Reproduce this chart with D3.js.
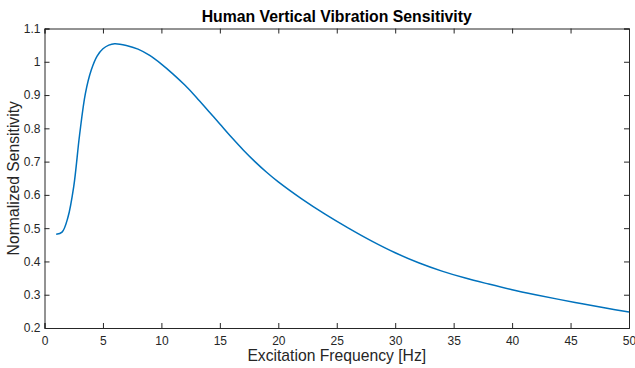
<html>
<head>
    <meta charset="utf-8">
    <script src="https://d3js.org/d3.v7.min.js"></script>
    <title>vibration</title>
    <style>
        body { margin: 0; background: #fff; }
        text { font-family: "Liberation Sans", Arial, sans-serif; }
    </style>
</head>
<body>
<svg id="chart"></svg>
<script>
// values
const freq = [1, 1.5, 2, 2.5, 3, 3.5, 4, 4.5, 5, 5.5, 6, 7, 8, 9, 10, 11, 12, 13, 14, 15, 16,
              17, 18, 19, 20, 22, 24, 26, 28, 30, 32, 34, 36, 38, 40, 42, 44, 46, 48, 50];
const sens = [0.482, 0.488, 0.532, 0.625, 0.78, 0.905, 0.975, 1.017, 1.039, 1.05, 1.054, 1.049,
              1.038, 1.019, 0.993, 0.963, 0.93, 0.893, 0.853, 0.813, 0.773, 0.735, 0.700, 0.668,
              0.639, 0.588, 0.542, 0.500, 0.461, 0.426, 0.396, 0.371, 0.350, 0.332, 0.315,
              0.300, 0.286, 0.273, 0.260, 0.248];
const xTicks = [0, 5, 10, 15, 20, 25, 30, 35, 40, 45, 50];
const yTicks = [0.2, 0.3, 0.4, 0.5, 0.6, 0.7, 0.8, 0.9, 1, 1.1];

const width = 635, height = 368;
const mLeft = 44.5, mRight = 629, mTop = 28.5, mBottom = 328;
const axisColor = "#262626";

let svg = d3.select("svg#chart")
            .attr("width", width)
            .attr("height", height);

const x = d3.scaleLinear().domain([0, 50]).range([mLeft, mRight]);
const y = d3.scaleLinear().domain([0.2, 1.1]).range([mBottom, mTop]);

// bottom + left axes with labels, top + right only ticks (all inward)
svg.append("g")
   .attr("transform", `translate(0,${mBottom})`)
   .call(d3.axisBottom(x).tickValues(xTicks).tickSize(-5).tickPadding(8).tickFormat(d3.format("")));
svg.append("g")
   .attr("transform", `translate(${mLeft},0)`)
   .call(d3.axisLeft(y).tickValues(yTicks).tickSize(-5).tickPadding(4).tickFormat(d3.format("")));
svg.append("g")
   .attr("transform", `translate(0,${mTop})`)
   .call(d3.axisTop(x).tickValues(xTicks).tickSize(-5).tickFormat(""));
svg.append("g")
   .attr("transform", `translate(${mRight},0)`)
   .call(d3.axisRight(y).tickValues(yTicks).tickSize(-5).tickFormat(""));

svg.selectAll(".domain").attr("stroke", axisColor).attr("stroke-width", 1);
svg.selectAll(".tick line").attr("stroke", axisColor);
svg.selectAll(".tick text").attr("fill", axisColor).style("font-size", "12px");

let pts = freq.map((f, i) => [f, sens[i]]);
let line = d3.line()
             .x(d => x(d[0]))
             .y(d => y(d[1]))
             .curve(d3.curveCatmullRom.alpha(0.5));

svg.append("path")
   .datum(pts)
   .attr("d", line)
   .attr("fill", "none")
   .attr("stroke", "#0072BD")
   .attr("stroke-width", 1.5);

svg.append("text")
   .attr("x", (mLeft + mRight) / 2)
   .attr("y", 22)
   .attr("text-anchor", "middle")
   .style("font-size", "15.8px")
   .style("font-weight", "bold")
   .attr("fill", "#000")
   .text("Human Vertical Vibration Sensitivity");

svg.append("text")
   .attr("x", (mLeft + mRight) / 2)
   .attr("y", 361)
   .attr("text-anchor", "middle")
   .style("font-size", "15.7px")
   .attr("fill", axisColor)
   .text("Excitation Frequency [Hz]");

svg.append("text")
   .attr("transform", `translate(19,${(mTop + mBottom) / 2}) rotate(-90)`)
   .attr("text-anchor", "middle")
   .style("font-size", "15.7px")
   .attr("fill", axisColor)
   .text("Normalized Sensitivity");
</script>
</body>
</html>
